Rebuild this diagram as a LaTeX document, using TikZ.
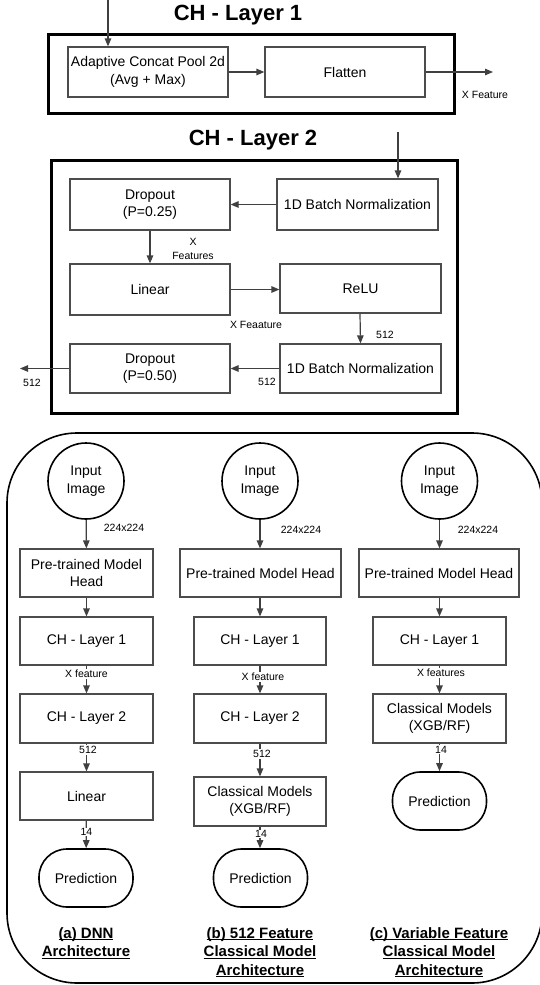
\documentclass[tikz,border=0pt]{standalone}
\usepackage{fontspec}
\setmainfont{Liberation Sans}
\usetikzlibrary{arrows.meta}
\newcommand{\ulx}[1]{\setbox0\hbox{#1}\rlap{\rule[-2.4pt]{\wd0}{1.1pt}}\box0}
\begin{document}
\begin{tikzpicture}[x=1pt,y=-1pt,
  box/.style={draw=black!70,line width=1.2pt,inner sep=1pt,align=center,font=\fontsize{14}{17.5}\selectfont},
  outer/.style={draw=black,line width=3pt},
  circ/.style={draw=black,circle,line width=1.6pt,minimum size=76pt,inner sep=0pt,align=center,font=\fontsize{14}{17.5}\selectfont},
  pred/.style={draw=black,line width=1.6pt,rounded corners=28pt,minimum width=94pt,minimum height=58pt,inner sep=0pt,font=\fontsize{14}{17}\selectfont},
  arr/.style={draw=black!75,line width=1.2pt,-{Triangle[length=8pt,width=6.5pt]}},
  lab/.style={inner sep=0.8pt,font=\fontsize{10.5}{14}\selectfont},
  wlab/.style={lab,fill=white},
  ttl/.style={font=\bfseries\fontsize{22}{26}\selectfont},
  captext/.style={inner sep=0pt,font=\bfseries\fontsize{15}{18.5}\selectfont}
]
\useasboundingbox (0,0) rectangle (539,985);

% ---------- CH - Layer 1 ----------
\node[ttl] (t1) at (238,15) {CH - Layer 1};
\draw[outer] (48,34) rectangle (454,113);
\node[box,minimum width=160pt,minimum height=50pt] (adp) at (148,72) {Adaptive Concat Pool 2d\\(Avg + Max)};
\node[box,minimum width=160pt,minimum height=50pt] (flat) at (345,72) {Flatten};
\coordinate (in1) at (108,0);
\coordinate (out1) at (493,72);
\draw[arr] (in1) -- (in1 |- adp.north);
\draw[arr] (adp) -- (flat);
\draw[arr] (flat) -- (out1);
\node[lab] (xf1) at (485,95) {X Feature};

% ---------- CH - Layer 2 ----------
\node[ttl] (t2) at (253,140) {CH - Layer 2};
\draw[outer] (51,160) rectangle (457,413);
\node[box,minimum width=160pt,minimum height=51pt] (d1) at (150,204.5) {Dropout\\(P=0.25)};
\node[box,minimum width=161pt,minimum height=51pt] (bn1) at (357.5,204.5) {1D Batch Normalization};
\node[box,minimum width=160pt,minimum height=51pt] (lin) at (150,289.5) {Linear};
\node[box,minimum width=161pt,minimum height=49pt] (relu) at (360.5,288.5) {ReLU};
\node[box,minimum width=161pt,minimum height=49pt] (bn2) at (360.5,368.5) {1D Batch Normalization};
\node[box,minimum width=160pt,minimum height=49pt] (d2) at (150,368.5) {Dropout\\(P=0.50)};
\coordinate (in2) at (398,132);
\coordinate (out2) at (20,368.5);
\draw[arr] (in2) -- (in2 |- bn1.north);
\draw[arr] (bn1) -- (d1);
\draw[arr] (d1) -- (lin);
\draw[arr] (lin.east) -- (relu.west |- lin.east);
\draw[arr] (relu.south -| 360,0) -- (bn2.north);
\draw[arr] (bn2) -- (d2);
\draw[arr] (d2) -- (out2);
\node[lab,align=center] (lxf) at (193,249) {X\\Features};
\node[lab] (lxfa) at (256,325) {X Feaature};
\node[lab] (l512a) at (385,335) {512};
\node[lab] (l512b) at (267,382) {512};
\node[lab] (l512c) at (32,383) {512};

% ---------- Architectures ----------
\draw[line width=1.6pt,rounded corners=70pt] (7,433) rectangle (542,983);

% column a
\node[circ] (ia) at (86,481) {Input\\Image};
\node[box,minimum width=133pt,minimum height=48pt] (pa) at (86.5,573) {Pre-trained Model\\Head};
\node[box,minimum width=133pt,minimum height=48pt] (c1a) at (86.5,641) {CH - Layer 1};
\node[box,minimum width=133pt,minimum height=49pt] (c2a) at (86.5,718.5) {CH - Layer 2};
\node[box,minimum width=133pt,minimum height=48pt] (la) at (86.5,796) {Linear};
\node[pred] (pra) at (86,878) {Prediction};
\draw[arr] (ia) -- (pa);
\draw[arr] (pa) -- (c1a);
\draw[arr] (c1a) -- (c2a);
\draw[arr] (c2a) -- (la);
\draw[arr] (la) -- (pra);
\node[lab] (sa) at (124,528) {224x224};
\node[wlab] (fa) at (86.5,674) {X feature};
\node[wlab] (na) at (88,750) {512};
\node[wlab] (ka) at (86.5,832) {14};
\node[captext,anchor=base] (capa1) at (86,938) {\ulx{(a) DNN}};
\node[captext,anchor=base] (capa2) at (86,956.5) {\ulx{Architecture}};

% column b
\node[circ] (ib) at (260,481) {Input\\Image};
\node[box,minimum width=161pt,minimum height=48pt] (pb) at (260.5,573) {Pre-trained Model Head};
\node[box,minimum width=132pt,minimum height=48pt] (c1b) at (260,641) {CH - Layer 1};
\node[box,minimum width=132pt,minimum height=49pt] (c2b) at (260,718.5) {CH - Layer 2};
\node[box,minimum width=132pt,minimum height=49pt] (clb) at (260,801.5) {Classical Models\\(XGB/RF)};
\node[pred] (prb) at (260.5,878) {Prediction};
\draw[arr] (ib) -- (ib |- pb.north);
\draw[arr] (pb.south -| c1b) -- (c1b);
\draw[arr] (c1b) -- (c2b);
\draw[arr] (c2b) -- (clb);
\draw[arr] (clb.south) -- (clb.south |- prb.north);
\node[lab] (sb) at (301,530) {224x224};
\node[wlab] (fb) at (263,677) {X feature};
\node[wlab] (nb) at (262,754) {512};
\node[wlab] (kb) at (261,834) {14};
\node[captext,anchor=base] (capb1) at (260,938) {\ulx{(b) 512 Feature}};
\node[captext,anchor=base] (capb2) at (260,956.5) {\ulx{Classical Model}};
\node[captext,anchor=base] (capb3) at (260,975) {\ulx{Architecture}};

% column c
\node[circ] (ic) at (439.5,481) {Input\\Image};
\node[box,minimum width=160pt,minimum height=48pt] (pc) at (439,573) {Pre-trained Model Head};
\node[box,minimum width=133pt,minimum height=48pt] (c1c) at (439.5,641) {CH - Layer 1};
\node[box,minimum width=133pt,minimum height=49pt] (clc) at (439.5,718.5) {Classical Models\\(XGB/RF)};
\node[pred] (prc) at (439.5,801) {Prediction};
\draw[arr] (ic) -- (ic |- pc.north);
\draw[arr] (pc.south -| c1c) -- (c1c);
\draw[arr] (c1c) -- (clc);
\draw[arr] (clc) -- (prc);
\node[lab] (sc) at (478,530) {224x224};
\node[wlab] (fc) at (441,673) {X features};
\node[wlab] (kc) at (441,749.5) {14};
\node[captext,anchor=base] (capc1) at (439,938) {\ulx{(c) Variable Feature}};
\node[captext,anchor=base] (capc2) at (439,956.5) {\ulx{Classical Model}};
\node[captext,anchor=base] (capc3) at (439,975) {\ulx{Architecture}};
\end{tikzpicture}
\end{document}
